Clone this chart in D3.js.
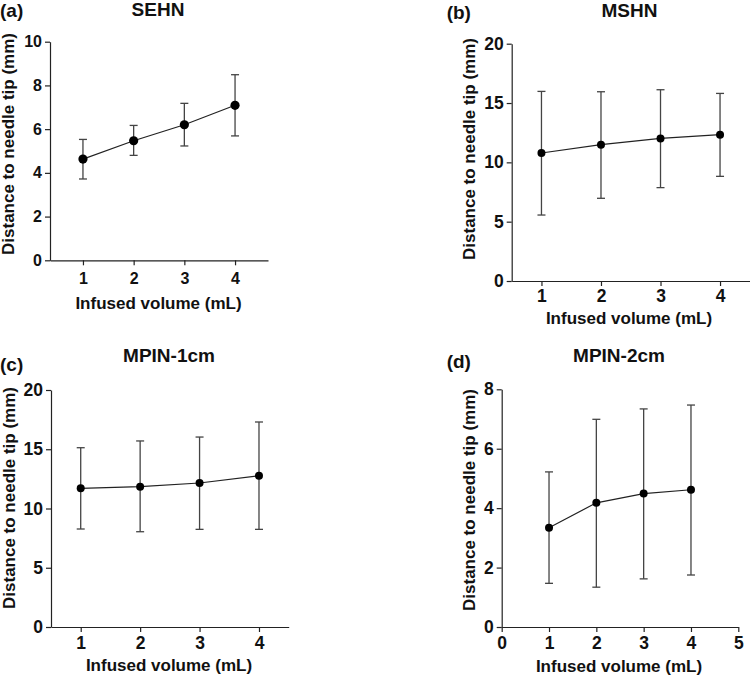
<!DOCTYPE html>
<html>
<head>
<meta charset="utf-8">
<script src="https://cdn.jsdelivr.net/npm/d3@7"></script>
<style>
  html, body { margin: 0; padding: 0; background: #fff; }
  svg { display: block; font-family: "Liberation Sans", Arial, sans-serif; }
</style>
</head>
<body>
<svg id="chart" width="750" height="676"></svg>
<script>
// ---- data ----
const volumes = [1, 2, 3, 4];

const sehnMean = [4.63, 5.47, 6.20, 7.09];
const sehnLow  = [3.72, 4.80, 5.23, 5.69];
const sehnHigh = [5.53, 6.17, 7.18, 8.49];

const mshnMean = [10.79, 11.49, 12.02, 12.33];
const mshnLow  = [5.56, 6.97, 7.87, 8.82];
const mshnHigh = [15.98, 15.95, 16.12, 15.81];

const mpin1Mean = [11.70, 11.84, 12.15, 12.77];
const mpin1Low  = [8.27, 8.04, 8.24, 8.24];
const mpin1High = [15.13, 15.70, 16.03, 17.30];

const mpin2Mean = [3.34, 4.18, 4.49, 4.62];
const mpin2Low  = [1.47, 1.34, 1.62, 1.75];
const mpin2High = [5.22, 6.99, 7.34, 7.47];

const ticksA = [0, 2, 4, 6, 8, 10];
const ticks20 = [0, 5, 10, 15, 20];
const ticksD = [0, 2, 4, 6, 8];
const xTicks4 = [1, 2, 3, 4];
const xTicksD = [0, 1, 2, 3, 4, 5];

const panelLetters = ["(a)", "(b)", "(c)", "(d)"];
const panelTitles = ["SEHN", "MSHN", "MPIN-1cm", "MPIN-2cm"];
const xTitle = "Infused volume (mL)";
const yTitle = "Distance to needle tip (mm)";

// ---- layout per panel ----
const panels = [
  { mean: sehnMean, low: sehnLow, high: sehnHigh, yMax: 10, yTicks: ticksA, xDom: [0.35, 4.65], xTicks: xTicks4,
    x0: 50, x1: 268, yTop: 41.7, yBot: 260.3, r: 4.6, tickFont: 16, tickPad: 7.3,
    letter: [0, 17], title: [158, 16], ylab: [8.5, 144], xlab: [158.5, 309] },
  { mean: mshnMean, low: mshnLow, high: mshnHigh, yMax: 20, yTicks: ticks20, xDom: [0.5, 4.5], xTicks: xTicks4,
    x0: 511.7, x1: 749.8, yTop: 43.7, yBot: 281, r: 4, tickFont: 17.5, tickPad: 3.3,
    letter: [446.7, 18.5], title: [629.5, 16.5], ylab: [469.5, 149], xlab: [629, 324] },
  { mean: mpin1Mean, low: mpin1Low, high: mpin1High, yMax: 20, yTicks: ticks20, xDom: [0.5, 4.5], xTicks: xTicks4,
    x0: 51, x1: 288.7, yTop: 390, yBot: 627, r: 4, tickFont: 17.5, tickPad: 4.3,
    letter: [0, 371], title: [169, 361.7], ylab: [9.5, 498], xlab: [169, 670.5] },
  { mean: mpin2Mean, low: mpin2Low, high: mpin2High, yMax: 8, yTicks: ticksD, xDom: [0, 5], xTicks: xTicksD,
    x0: 501.7, x1: 738.3, yTop: 389.3, yBot: 627, r: 4, tickFont: 17.5, tickPad: 4.5,
    letter: [446.7, 368], title: [619, 361.7], ylab: [469.5, 500], xlab: [619, 671.7] }
];

const svg = d3.select("#chart");
const axisColor = "#222";
const barColor = "#444";

panels.forEach((p, i) => {
  const g = svg.append("g");
  const x = d3.scaleLinear().domain(p.xDom).range([p.x0, p.x1]);
  const y = d3.scaleLinear().domain([0, p.yMax]).range([p.yBot, p.yTop]);

  // y axis
  const ya = g.append("g").attr("transform", `translate(${p.x0},0)`)
    .call(d3.axisLeft(y).tickValues(p.yTicks).tickSize(5).tickSizeOuter(0).tickPadding(3).tickFormat(d3.format("d")));
  // x axis
  const xa = g.append("g").attr("transform", `translate(0,${p.yBot})`)
    .call(d3.axisBottom(x).tickValues(p.xTicks).tickSize(5).tickSizeOuter(0).tickPadding(p.tickPad).tickFormat(d3.format("d")));
  [ya, xa].forEach(a => {
    a.select(".domain").attr("stroke", axisColor).attr("stroke-width", 1.2);
    a.selectAll(".tick line").attr("stroke", axisColor).attr("stroke-width", 1.2);
    a.selectAll(".tick text").attr("fill", "#111").attr("font-size", p.tickFont).attr("font-weight", "bold");
  });

  // error bars
  const capW = 4;
  const eb = g.append("g").attr("stroke", barColor).attr("stroke-width", 1.3);
  volumes.forEach((v, k) => {
    eb.append("line").attr("x1", x(v)).attr("x2", x(v)).attr("y1", y(p.low[k])).attr("y2", y(p.high[k]));
    eb.append("line").attr("x1", x(v) - capW).attr("x2", x(v) + capW).attr("y1", y(p.high[k])).attr("y2", y(p.high[k]));
    eb.append("line").attr("x1", x(v) - capW).attr("x2", x(v) + capW).attr("y1", y(p.low[k])).attr("y2", y(p.low[k]));
  });

  // connecting line
  const line = d3.line().x((d, k) => x(volumes[k])).y(d => y(d));
  g.append("path").datum(p.mean).attr("d", line).attr("fill", "none").attr("stroke", "#222").attr("stroke-width", 1.2);

  // points
  g.selectAll("circle.pt").data(p.mean).enter().append("circle")
    .attr("cx", (d, k) => x(volumes[k])).attr("cy", d => y(d)).attr("r", p.r).attr("fill", "#000");

  // texts
  g.append("text").attr("x", p.letter[0]).attr("y", p.letter[1]).text(panelLetters[i])
    .attr("font-size", 19).attr("font-weight", "bold").attr("fill", "#111");
  g.append("text").attr("x", p.title[0]).attr("y", p.title[1]).attr("text-anchor", "middle").text(panelTitles[i])
    .attr("font-size", 19).attr("font-weight", "bold").attr("fill", "#111");
  g.append("text").attr("transform", `translate(${p.ylab[0]},${p.ylab[1]}) rotate(-90)`)
    .attr("text-anchor", "middle").attr("dy", "0.35em").text(yTitle)
    .attr("font-size", 17).attr("font-weight", "bold").attr("fill", "#111");
  g.append("text").attr("x", p.xlab[0]).attr("y", p.xlab[1]).attr("text-anchor", "middle").text(xTitle)
    .attr("font-size", 17).attr("font-weight", "bold").attr("fill", "#111");
});
</script>
</body>
</html>
